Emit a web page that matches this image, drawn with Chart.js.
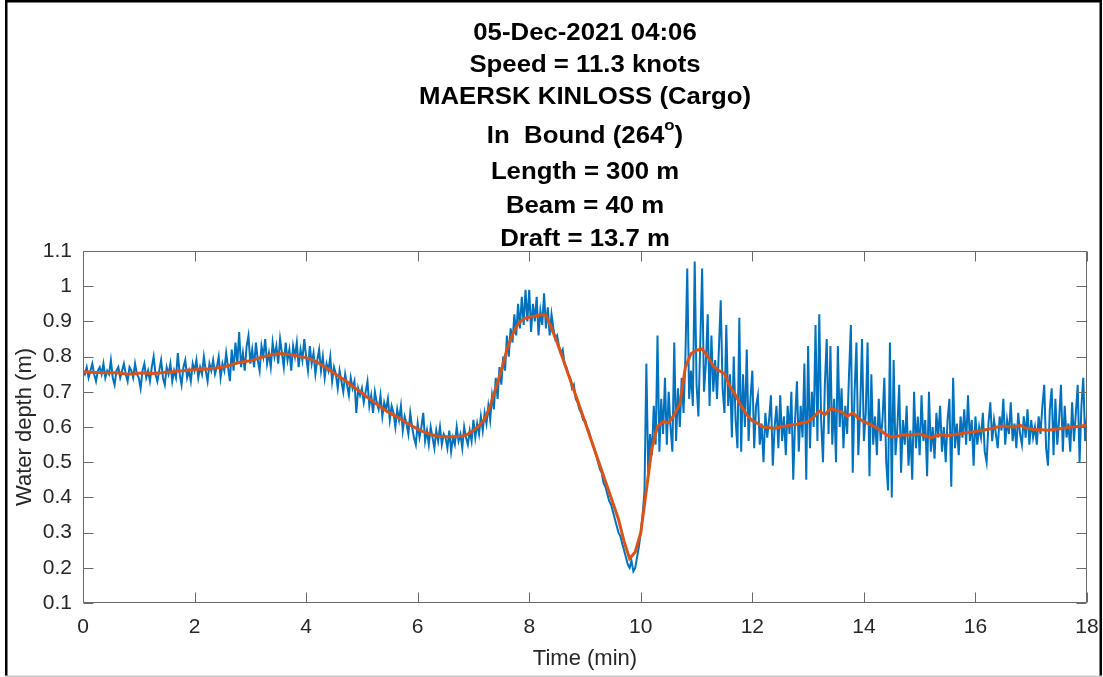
<!DOCTYPE html>
<html>
<head>
<meta charset="utf-8">
<title>Water depth</title>
<script src="https://cdn.jsdelivr.net/npm/chart.js@4.4.1/dist/chart.umd.min.js"></script>
<style>
  html, body { margin: 0; padding: 0; background: #fff; }
  canvas { display: block; }
</style>
</head>
<body>
<canvas id="depthChart" width="1103" height="677"></canvas>
<script>
// Header text (a "^" marks a one-letter superscript)
const headerLines = [
  '05-Dec-2021 04:06',
  'Speed = 11.3 knots',
  'MAERSK KINLOSS (Cargo)',
  'In  Bound (264^o)',
  'Length = 300 m',
  'Beam = 40 m',
  'Draft = 13.7 m'
];

const timeTicks = [0, 2, 4, 6, 8, 10, 12, 14, 16, 18];
const depthTicks = [0.1, 0.2, 0.3, 0.4, 0.5, 0.6, 0.7, 0.8, 0.9, 1, 1.1];

// Measured water depth, one sample every 2 s (30 per minute), one row per minute
const rawStep = 1 / 30;
const rawDepth = [
  0.76,0.75,0.77,0.74,0.76,0.78,0.75,0.73,0.76,0.77,0.75,0.78,0.74,0.76,0.75,0.79,0.74,0.72,0.76,0.77,0.74,0.76,0.78,0.75,0.73,0.77,0.76,0.74,0.78,0.75,
  0.74,0.71,0.76,0.78,0.74,0.76,0.73,0.77,0.80,0.75,0.73,0.76,0.79,0.74,0.72,0.77,0.75,0.78,0.73,0.76,0.74,0.81,0.75,0.72,0.77,0.79,0.74,0.76,0.73,0.78,
  0.76,0.79,0.74,0.77,0.75,0.80,0.76,0.73,0.78,0.76,0.79,0.75,0.77,0.80,0.74,0.78,0.76,0.81,0.77,0.73,0.82,0.76,0.84,0.78,0.87,0.77,0.81,0.76,0.83,0.86,
  0.78,0.82,0.77,0.84,0.79,0.76,0.83,0.80,0.85,0.78,0.81,0.77,0.84,0.80,0.83,0.78,0.85,0.81,0.77,0.84,0.79,0.82,0.76,0.83,0.80,0.84,0.77,0.82,0.79,0.85,
  0.80,0.76,0.83,0.78,0.81,0.75,0.79,0.82,0.76,0.80,0.74,0.78,0.76,0.80,0.73,0.77,0.75,0.71,0.76,0.73,0.70,0.75,0.72,0.69,0.74,0.71,0.73,0.64,0.71,0.69,
  0.71,0.67,0.70,0.73,0.66,0.69,0.64,0.70,0.67,0.65,0.69,0.63,0.67,0.65,0.68,0.62,0.66,0.64,0.60,0.65,0.62,0.66,0.59,0.63,0.61,0.58,0.64,0.60,0.57,0.55,
  0.61,0.57,0.60,0.64,0.56,0.59,0.55,0.60,0.57,0.54,0.59,0.56,0.60,0.55,0.58,0.57,0.54,0.59,0.53,0.57,0.55,0.60,0.56,0.58,0.54,0.60,0.57,0.55,0.59,0.56,
  0.62,0.57,0.61,0.58,0.63,0.59,0.64,0.61,0.66,0.62,0.69,0.65,0.74,0.68,0.77,0.72,0.80,0.76,0.86,0.80,0.88,0.84,0.92,0.86,0.95,0.88,0.97,0.89,0.99,0.90,
  0.99,0.87,0.95,0.90,0.97,0.86,0.93,0.89,0.98,0.88,0.94,0.86,0.92,0.88,0.85,0.86,0.83,0.81,0.82,0.78,0.77,0.75,0.74,0.71,0.72,0.68,0.67,0.65,0.64,0.62,
  0.62,0.60,0.59,0.57,0.55,0.54,0.52,0.50,0.48,0.47,0.44,0.43,0.41,0.39,0.38,0.36,0.34,0.32,0.30,0.29,0.27,0.25,0.23,0.21,0.20,0.22,0.19,0.20,0.23,0.26,
  0.30,0.35,0.42,0.78,0.47,0.58,0.52,0.66,0.55,0.86,0.53,0.68,0.58,0.74,0.55,0.70,0.60,0.53,0.84,0.56,0.71,0.60,0.74,0.64,0.80,1.05,0.68,0.76,0.66,1.07,
  0.72,0.63,0.84,1.05,0.70,0.78,0.92,0.66,0.86,0.70,0.79,0.68,0.82,0.96,0.71,0.64,0.89,0.66,0.75,0.57,0.80,0.62,0.54,0.91,0.53,0.75,0.60,0.82,0.56,0.68,
  0.76,0.54,0.66,0.69,0.55,0.61,0.50,0.64,0.57,0.62,0.69,0.49,0.60,0.66,0.54,0.69,0.56,0.63,0.52,0.66,0.58,0.70,0.45,0.62,0.73,0.53,0.66,0.57,0.78,0.45,
  0.83,0.54,0.70,0.60,0.89,0.56,0.92,0.62,0.50,0.72,0.85,0.58,0.83,0.55,0.68,0.50,0.83,0.60,0.71,0.54,0.66,0.58,0.75,0.89,0.47,0.70,0.84,0.52,0.65,0.85,
  0.56,0.64,0.84,0.46,0.75,0.55,0.63,0.52,0.68,0.56,0.62,0.74,0.50,0.42,0.84,0.40,0.79,0.52,0.60,0.72,0.47,0.62,0.55,0.66,0.49,0.59,0.45,0.70,0.54,0.63,
  0.52,0.69,0.56,0.62,0.46,0.70,0.53,0.60,0.51,0.64,0.57,0.66,0.53,0.60,0.50,0.62,0.68,0.43,0.74,0.54,0.61,0.52,0.63,0.57,0.65,0.55,0.69,0.56,0.62,0.49,
  0.63,0.55,0.60,0.57,0.64,0.53,0.50,0.61,0.67,0.56,0.62,0.58,0.54,0.63,0.59,0.68,0.55,0.62,0.58,0.67,0.56,0.61,0.54,0.64,0.58,0.55,0.63,0.57,0.65,0.55,
  0.62,0.57,0.60,0.55,0.63,0.58,0.66,0.72,0.54,0.49,0.65,0.71,0.52,0.68,0.55,0.62,0.72,0.53,0.66,0.57,0.61,0.53,0.67,0.56,0.64,0.72,0.50,0.66,0.74,0.56,
  0.63
];

// Smoothed depth, one value every 0.1 min, one row per minute
const smoothStep = 0.1;
const smoothDepth = [
  0.757,0.756,0.755,0.755,0.754,0.754,0.754,0.752,0.750,0.751,
  0.753,0.754,0.752,0.753,0.754,0.756,0.757,0.759,0.760,0.762,
  0.763,0.765,0.764,0.766,0.768,0.770,0.774,0.779,0.783,0.786,
  0.788,0.793,0.798,0.802,0.806,0.808,0.808,0.806,0.803,0.800,
  0.797,0.792,0.784,0.774,0.764,0.753,0.743,0.732,0.720,0.708,
  0.697,0.684,0.672,0.661,0.650,0.640,0.631,0.622,0.612,0.603,
  0.594,0.587,0.581,0.576,0.573,0.572,0.572,0.573,0.574,0.580,
  0.590,0.603,0.622,0.660,0.710,0.760,0.820,0.862,0.893,0.908,
  0.912,0.915,0.918,0.918,0.880,0.840,0.795,0.750,0.705,0.660,
  0.614,0.568,0.522,0.476,0.430,0.384,0.338,0.275,0.226,0.245,
  0.300,0.420,0.540,0.602,0.615,0.612,0.635,0.665,0.770,0.808,
  0.818,0.822,0.800,0.773,0.760,0.752,0.715,0.690,0.660,0.635,
  0.618,0.610,0.600,0.598,0.596,0.600,0.603,0.606,0.608,0.612,
  0.615,0.628,0.645,0.635,0.652,0.648,0.643,0.630,0.640,0.625,
  0.615,0.608,0.600,0.590,0.578,0.572,0.574,0.578,0.577,0.579,
  0.580,0.575,0.570,0.575,0.578,0.575,0.578,0.580,0.583,0.585,
  0.587,0.590,0.593,0.596,0.600,0.603,0.601,0.600,0.605,0.597,
  0.594,0.592,0.592,0.591,0.593,0.595,0.597,0.600,0.601,0.603,
  0.606
];

const FONT = "'Liberation Sans', Arial, Helvetica, sans-serif";
const INK = '#262626';

function toPoints(values, step) {
  return values.map((v, i) => ({ x: +(i * step).toFixed(4), y: v }));
}

// white page with the black frame round it
const pageFrame = {
  id: 'pageFrame',
  beforeDraw(chart) {
    const ctx = chart.ctx;
    ctx.save();
    ctx.fillStyle = '#fff';
    ctx.fillRect(0, 0, chart.width, chart.height);
    ctx.fillStyle = '#000';
    ctx.fillRect(5, 0, 1097, 2.5);
    ctx.fillRect(5, 0, 2.5, chart.height);
    ctx.fillRect(1099.5, 0, 2.5, chart.height);
    ctx.fillStyle = '#c8c8c8';
    ctx.fillRect(5, 675.5, 1097, 1.5);
    ctx.restore();
  }
};

// multi-line bold header, centred over the axes
const header = {
  id: 'header',
  afterDraw(chart) {
    const ctx = chart.ctx;
    const area = chart.chartArea;
    const cx = (area.left + area.right) / 2;
    const baselines = [40, 72, 104, 143, 179, 213, 246];
    const stretch = 1.12;
    const big = 'bold 23px ' + FONT;
    const small = 'bold 15px ' + FONT;
    ctx.save();
    ctx.fillStyle = '#000';
    ctx.textBaseline = 'alphabetic';
    ctx.textAlign = 'left';
    headerLines.forEach((line, i) => {
      const parts = line.split('^');
      const pieces = [{ text: parts[0], font: big, rise: 0 }];
      if (parts.length > 1) {
        pieces.push({ text: parts[1].charAt(0), font: small, rise: -13 });
        pieces.push({ text: parts[1].slice(1), font: big, rise: 0 });
      }
      let total = 0;
      pieces.forEach(p => { ctx.font = p.font; p.w = ctx.measureText(p.text).width; total += p.w; });
      ctx.save();
      ctx.translate(cx, baselines[i]);
      ctx.scale(stretch, 1);
      let x = -total / 2;
      pieces.forEach(p => {
        ctx.font = p.font;
        ctx.fillText(p.text, x, p.rise);
        x += p.w;
      });
      ctx.restore();
    });
    ctx.restore();
  }
};

// box round the axes with inward tick marks on all four sides
const axesBox = {
  id: 'axesBox',
  afterDatasetsDraw(chart) {
    const { ctx, chartArea: a, scales: { x, y } } = chart;
    const len = 10;
    ctx.save();
    ctx.strokeStyle = '#6a6a6a';
    ctx.lineWidth = 1;
    ctx.beginPath();
    const L = Math.round(a.left) + 0.5, R = Math.round(a.right) - 0.5;
    const T = Math.round(a.top) + 0.5, B = Math.round(a.bottom) - 0.5;
    ctx.rect(L, T, R - L, B - T);
    x.ticks.forEach(t => {
      const px = Math.round(x.getPixelForValue(t.value)) + 0.5;
      ctx.moveTo(px, B); ctx.lineTo(px, B - len);
      ctx.moveTo(px, T); ctx.lineTo(px, T + len);
    });
    y.ticks.forEach(t => {
      const py = Math.round(y.getPixelForValue(t.value)) + 0.5;
      ctx.moveTo(L, py); ctx.lineTo(L + len, py);
      ctx.moveTo(R, py); ctx.lineTo(R - len, py);
    });
    ctx.stroke();
    ctx.restore();
  }
};

new Chart(document.getElementById('depthChart'), {
  type: 'line',
  data: {
    datasets: [
      {
        label: 'Smoothed',
        data: toPoints(smoothDepth, smoothStep),
        borderColor: '#D95319',
        borderWidth: 3,
        pointRadius: 0,
        tension: 0,
        order: 1
      },
      {
        label: 'Measured',
        data: toPoints(rawDepth, rawStep),
        borderColor: '#0072BD',
        borderWidth: 2,
        pointRadius: 0,
        tension: 0,
        order: 2
      }
    ]
  },
  options: {
    responsive: false,
    animation: false,
    events: [],
    layout: { padding: { top: 251, right: 16, left: 0, bottom: 0 } },
    plugins: {
      legend: { display: false },
      title: { display: false },
      tooltip: { enabled: false }
    },
    scales: {
      x: {
        type: 'linear',
        min: 0,
        max: 18,
        afterBuildTicks: s => { s.ticks = timeTicks.map(v => ({ value: v })); },
        afterFit: s => { s.height = 74; s.paddingLeft = 0; s.paddingRight = 0; },
        grid: { display: false, drawTicks: false },
        border: { display: false },
        ticks: { color: INK, font: { family: FONT, size: 21 }, padding: 12, maxRotation: 0, autoSkip: false },
        title: { display: true, text: 'Time (min)', color: INK, font: { family: FONT, size: 22 }, padding: { top: 0, bottom: 5 } }
      },
      y: {
        min: 0.1,
        max: 1.1,
        afterBuildTicks: s => { s.ticks = depthTicks.map(v => ({ value: v })); },
        afterFit: s => { s.width = 83; s.paddingTop = 0; s.paddingBottom = 0; },
        grid: { display: false, drawTicks: false },
        border: { display: false },
        ticks: { color: INK, font: { family: FONT, size: 21 }, padding: 11, autoSkip: false, callback: v => String(+v.toFixed(1)) },
        title: { display: true, text: 'Water depth (m)', color: INK, font: { family: FONT, size: 22 }, padding: { top: 12, bottom: 0 } }
      }
    }
  },
  plugins: [pageFrame, axesBox, header]
});
</script>
</body>
</html>
